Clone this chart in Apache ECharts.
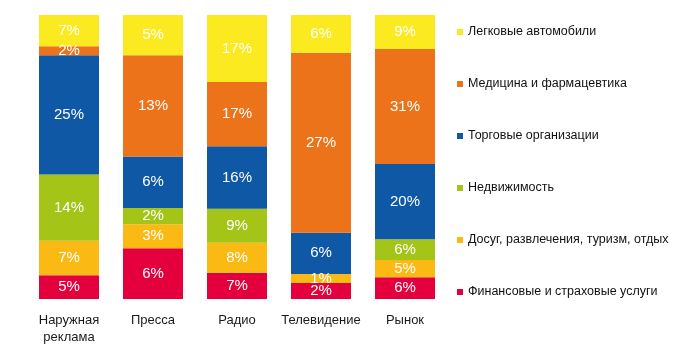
<!DOCTYPE html>
<html>
<head>
<meta charset="utf-8">
<script src="https://cdn.jsdelivr.net/npm/echarts@6/dist/echarts.min.js"></script>
<style>html,body{margin:0;padding:0;background:#fff}#c{width:700px;height:360px}</style>
</head>
<body>
<div id="c"></div>
<script>
const categories = ['Наружная\nреклама', 'Пресса', 'Радио', 'Телевидение', 'Рынок'];
const legendOrder = ['Легковые автомобили', 'Медицина и фармацевтика', 'Торговые организации', 'Недвижимость', 'Досуг, развлечения, туризм, отдых', 'Финансовые и страховые услуги'];
// values per series (bottom to top of stack)
const finance  = [5.0, 6.3, 6.85, 2.37, 5.9];
const leisure  = [7.3, 3.0, 7.8, 1.33, 4.7];
const realty   = [14.0, 2.0, 8.8, 0, 5.6];
const trade    = [25.2, 6.4, 16.3, 6.1, 20.4];
const medicine = [1.9, 12.6, 16.7, 26.6, 31.2];
const cars     = [6.6, 5.0, 17.4, 5.6, 9.2];

const stackSeries = [
  {name: 'Финансовые и страховые услуги', data: finance, color: '#E3003C'},
  {name: 'Досуг, развлечения, туризм, отдых', data: leisure, color: '#FBBA13'},
  {name: 'Недвижимость', data: realty, color: '#A5C418'},
  {name: 'Торговые организации', data: trade, color: '#0E58A5'},
  {name: 'Медицина и фармацевтика', data: medicine, color: '#ED731A'},
  {name: 'Легковые автомобили', data: cars, color: '#FBEA20'}
];
const totals = categories.map((c, i) => stackSeries.reduce((s, ser) => s + ser.data[i], 0));

const chart = echarts.init(document.getElementById('c'), null, {renderer: 'canvas'});
const font = "'Liberation Sans', Arial, sans-serif";
chart.setOption({
  animation: false,
  grid: {left: 27, width: 420, top: 15, height: 284},
  legend: {
    orient: 'vertical', left: 457, top: 25, padding: 0,
    itemWidth: 6, itemHeight: 6, itemGap: 38, icon: 'rect',
    data: legendOrder,
    textStyle: {fontFamily: font, fontSize: 12.5, color: '#111', lineHeight: 14}
  },
  xAxis: {
    type: 'category', data: categories,
    axisLine: {show: false}, axisTick: {show: false},
    axisLabel: {interval: 0, fontFamily: font, fontSize: 13, color: '#1a1a1a', margin: 13, lineHeight: 17}
  },
  yAxis: {type: 'value', min: 0, max: 100, show: false, splitLine: {show: false}},
  series: stackSeries.map(s => ({
    name: s.name, type: 'bar', stack: 'all', barWidth: 60,
    itemStyle: {color: s.color},
    label: {
      show: true, position: 'inside', color: '#fff', fontFamily: font, fontSize: 15,
      formatter: p => p.data.raw ? Math.round(p.data.raw) + '%' : ''
    },
    data: s.data.map((v, i) => ({value: v / totals[i] * 100, raw: v}))
  }))
});
</script>
</body>
</html>
